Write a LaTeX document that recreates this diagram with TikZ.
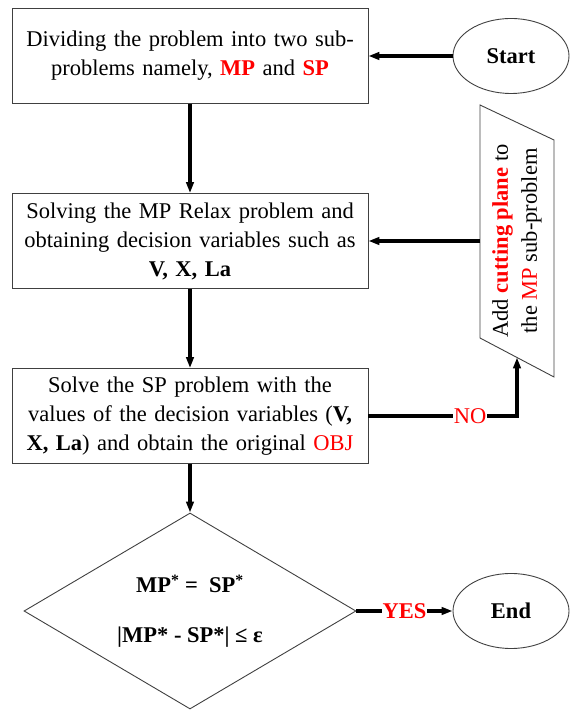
\documentclass[tikz,border=0pt]{standalone}
\usepackage{fontspec}
\setmainfont{Liberation Serif}
\usetikzlibrary{shapes.geometric,arrows.meta}
\definecolor{redt}{RGB}{255,0,0}
\begin{document}
\begin{tikzpicture}[x=1pt,y=1pt,
  font=\fontsize{22.5}{29}\selectfont,
  box/.style={draw=black!75, line width=0.9pt, minimum width=356pt, minimum height=95pt, text width=345pt, align=center, inner sep=0pt},
  term/.style={draw=black!75, line width=0.9pt, ellipse, minimum width=116pt, minimum height=75pt, inner sep=0pt, font=\fontsize{22.5}{29}\selectfont\bfseries},
  flow/.style={line width=3.1pt, -{Triangle[length=11pt,width=7.5pt]}},
  lbl/.style={fill=white, text=redt, inner sep=1pt}
]
\useasboundingbox (0,0) rectangle (571,711);
\node[box] (b1) at (190,655) {Dividing the problem into two sub-\\problems namely, \textcolor{redt}{\textbf{MP}} and \textcolor{redt}{\textbf{SP}}};
\node[box] (b2) at (190,470) {Solving the MP Relax problem and\\obtaining decision variables such as\\\textbf{V, X, La}};
\node[box] (b3) at (190,295) {Solve the SP problem with the\\values of the decision variables (\textbf{V,}\\\textbf{X, La}) and obtain the original \textcolor{redt}{OBJ}};
\node[term] (st) at (511,655) {Start};
\node[term] (en) at (511,100) {End};
\node[draw=black!75, line width=0.9pt, diamond, aspect=1.69, minimum width=332pt, minimum height=196pt, inner sep=0pt, align=center, font=\fontsize{22.5}{29}\selectfont\bfseries] (d) at (190,100) {MP\textsuperscript{*} =\ \ SP\textsuperscript{*}\\[21pt]|MP* - SP*| ≤ ε};
\coordinate (pTL) at (480,606);
\coordinate (pTR) at (554,571);
\coordinate (pBR) at (554,334);
\coordinate (pBL) at (480,373);
\coordinate (pL) at (480,470);
\coordinate (pB) at (517,353.5);
\draw[draw=black!75, line width=0.9pt] (pTL) -- (pTR) -- (pBR) -- (pBL) -- cycle;
\node[rotate=90, align=center, inner sep=0pt] (cut) at (517,470) {Add \textcolor{redt}{\textbf{cutting plane}} to\\the \textcolor{redt}{MP} sub-problem};
\draw[flow] (st.west) -- (b1.east);
\draw[flow] (b1) -- (b2);
\draw[flow] (b2) -- (b3);
\draw[flow] (b3) -- (d.north);
\draw[flow] (pL) -- (b2.east);
\draw[flow] (b3.east) -| (pB);
\node[lbl] (no) at (470,295) {NO};
\draw[flow] (d.east) -- node[lbl, font=\fontsize{22.5}{29}\selectfont\bfseries] (yes) {YES} (en.west);
\end{tikzpicture}
\end{document}
